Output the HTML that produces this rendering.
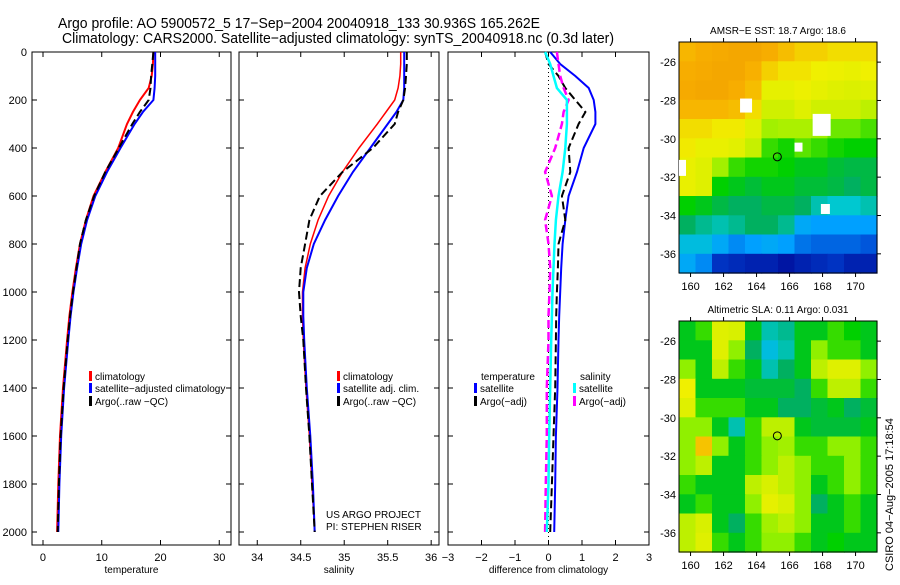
<!DOCTYPE html>
<html><head><meta charset="utf-8"><style>
body{margin:0;background:#fff}
svg text{font-family:"Liberation Sans",sans-serif;fill:#000}
</style></head><body>
<svg id="c" width="900" height="580" xmlns="http://www.w3.org/2000/svg">
<rect width="900" height="580" fill="#fff"/>
<text x="58" y="28" font-size="15" textLength="482" lengthAdjust="spacingAndGlyphs">Argo profile: AO 5900572_5 17−Sep−2004 20040918_133 30.936S 165.262E</text>
<text x="62" y="43" font-size="15" textLength="552" lengthAdjust="spacingAndGlyphs">Climatology: CARS2000. Satellite−adjusted climatology: synTS_20040918.nc (0.3d later)</text>
<g id="g"></g>
</svg>
<script>
const depths=[0,50,100,150,200,250,300,400,500,600,700,800,900,1000,1100,1200,1400,1600,1800,2000];
const tClim=[18.8,18.7,18.5,18.0,16.5,15.3,14.3,12.8,10.6,8.6,7.3,6.3,5.6,5.0,4.5,4.1,3.4,2.9,2.6,2.4];
const tSat=[19.1,19.1,19.1,19.0,18.8,17.0,15.6,13.2,10.9,8.9,7.5,6.5,5.8,5.2,4.7,4.3,3.6,3.1,2.8,2.6];
const tArgo=[18.8,18.6,18.4,18.3,18.0,16.5,15.2,12.9,10.6,8.7,7.3,6.3,5.7,5.1,4.6,4.2,3.5,3.0,2.7,2.5];
const sClim=[35.65,35.65,35.64,35.62,35.58,35.48,35.38,35.17,34.98,34.82,34.7,34.61,34.55,34.52,34.52,34.53,34.56,34.6,34.63,34.66];
const sSat=[35.69,35.69,35.69,35.69,35.68,35.6,35.5,35.3,35.1,34.93,34.78,34.65,34.57,34.53,34.53,34.54,34.57,34.61,34.64,34.66];
const sArgo=[35.72,35.72,35.71,35.70,35.68,35.62,35.58,35.33,34.98,34.72,34.6,34.55,34.5,34.48,34.5,34.53,34.56,34.6,34.63,34.66];
const dTSat=[0.05,0.35,0.8,1.2,1.35,1.4,1.4,1.05,0.85,0.6,0.5,0.42,0.38,0.35,0.32,0.3,0.27,0.22,0.2,0.17];
const dSSat=[-0.1,0.05,0.15,0.25,0.55,0.55,0.55,0.5,0.42,0.3,0.22,0.18,0.15,0.12,0.1,0.08,0.05,0.02,0.0,-0.05];
const dTArgo=[-0.1,0.0,0.3,0.5,0.8,1.1,0.9,0.6,0.65,0.4,0.5,0.3,0.28,0.25,0.23,0.22,0.2,0.15,0.1,0.05];
const dSArgo=[0.25,0.3,0.35,0.45,0.6,0.45,0.4,0.2,-0.1,0.1,-0.1,0.0,0.05,0.03,0.0,0.0,-0.05,-0.05,-0.08,-0.1];
const tTicks=[0,10,20,30], sTicks=[34,34.5,35,35.5,36], dTicks=[-3,-2,-1,0,1,2,3], zTicks=[0,200,400,600,800,1000,1200,1400,1600,1800,2000];
const sst=[
[.84,.86,.87,.88,.88,.86,.83,.8,.8,.78,.78,.78],
[.86,.87,.88,.88,.85,.8,.77,.77,.75,.74,.73,.75],
[.87,.88,.88,.86,.83,.72,.72,.74,.72,.7,.69,.7],
[.84,.84,.84,.83,.78,.67,.67,.7,.67,.67,.67,.65],
[.78,.78,.76,.76,.7,.62,.63,.63,.62,.58,.58,.56],
[.76,.73,.73,.71,.66,.55,.53,.57,.55,.53,.52,.52],
[.73,.7,.62,.55,.53,.53,.52,.5,.5,.48,.47,.47],
[.73,.7,.52,.5,.48,.5,.5,.48,.48,.47,.45,.47],
[.52,.5,.47,.45,.45,.47,.47,.45,.4,.38,.38,.4],
[.45,.42,.4,.42,.45,.45,.42,.3,.28,.28,.28,.28],
[.35,.35,.3,.25,.28,.3,.28,.22,.2,.2,.2,.18],
[.3,.25,.12,.1,.08,.08,.05,.08,.1,.12,.08,.08]];
const sla=[
[.5,.55,.7,.68,.5,.4,.42,.5,.5,.55,.52,.5],
[.5,.5,.7,.6,.45,.35,.4,.5,.6,.55,.55,.5],
[.6,.5,.65,.55,.5,.4,.45,.5,.65,.7,.7,.6],
[.75,.5,.5,.5,.48,.48,.48,.45,.55,.65,.65,.55],
[.7,.55,.55,.55,.5,.5,.45,.45,.48,.5,.45,.48],
[.6,.6,.5,.4,.55,.65,.65,.5,.48,.48,.48,.5],
[.6,.82,.6,.5,.55,.6,.62,.55,.55,.6,.6,.55],
[.6,.65,.5,.5,.55,.6,.65,.6,.55,.55,.6,.55],
[.55,.5,.5,.5,.65,.68,.65,.6,.5,.55,.6,.55],
[.5,.55,.5,.5,.6,.72,.68,.6,.45,.5,.55,.5],
[.65,.68,.5,.45,.55,.62,.65,.6,.5,.5,.55,.5],
[.65,.7,.55,.5,.55,.6,.6,.55,.5,.52,.5,.5]];
const NS='http://www.w3.org/2000/svg', G=document.getElementById('g');
function mk(t,a,p){const e=document.createElementNS(NS,t);for(const k in a)e.setAttribute(k,a[k]);(p||G).appendChild(e);return e;}
const yZ=z=>52+z*0.24;
const panels=[
 {x0:32,x1:231,v0:-1.87,v1:32.0,ticks:tTicks,label:'temperature',name:'temperature-panel'},
 {x0:239,x1:439,v0:33.79,v1:36.09,ticks:sTicks,label:'salinity',name:'salinity-panel'},
 {x0:448,x1:649,v0:-3,v1:3,ticks:dTicks,label:'difference from climatology',name:'difference-panel'}];
panels.forEach((p,i)=>{
 p.fx=v=>p.x0+(v-p.v0)/(p.v1-p.v0)*(p.x1-p.x0);
 const r=mk('rect',{x:p.x0,y:52,width:p.x1-p.x0,height:493,fill:'none',stroke:'#000','stroke-width':1});
 
 p.ticks.forEach(t=>{const x=p.fx(t);
  mk('line',{x1:x,x2:x,y1:545,y2:540,stroke:'#000'});mk('line',{x1:x,x2:x,y1:52,y2:57,stroke:'#000'});
  const tx=mk('text',{x:x,y:561,'font-size':11,'text-anchor':'middle'});tx.textContent=(t<0?'−'+(-t):t);
  });
 zTicks.forEach(z=>{const y=yZ(z);
  mk('line',{x1:p.x0,x2:p.x0+5,y1:y,y2:y,stroke:'#000'});mk('line',{x1:p.x1,x2:p.x1-5,y1:y,y2:y,stroke:'#000'});
  if(i==0){const tx=mk('text',{x:27,y:y+4,'font-size':11,'text-anchor':'end'});tx.textContent=z;
   }});
 const lb=mk('text',{x:(p.x0+p.x1)/2,y:573,'font-size':10,'text-anchor':'middle'});lb.textContent=p.label;
 
});
function line(p,vals,col,w,dash,name){
 const d=vals.map((v,k)=>(k?'L':'M')+p.fx(v).toFixed(1)+','+yZ(depths[k]).toFixed(1)).join('');
 const a={d:d,fill:'none',stroke:col,'stroke-width':w};if(dash)a['stroke-dasharray']=dash;
 const e=mk('path',a);}
const P=panels;
mk('line',{x1:P[2].fx(0),x2:P[2].fx(0),y1:52,y2:545,stroke:'#000','stroke-dasharray':'1,3'});
line(P[0],tClim,'#f00',2,null,'temp-climatology-line');line(P[0],tSat,'#00f',2,null,'temp-satellite-line');line(P[0],tArgo,'#000',2,'8,4','temp-argo-line');
line(P[1],sClim,'#f00',1.5,null,'sal-climatology-line');line(P[1],sSat,'#00f',2,null,'sal-satellite-line');line(P[1],sArgo,'#000',2,'8,4','sal-argo-line');
line(P[2],dTSat,'#00f',2,null,'temp-satellite-diff-line');line(P[2],dTArgo,'#000',2,'8,4','temp-argo-diff-line');
line(P[2],dSArgo,'#f0f',2.5,'8,4','sal-argo-diff-line');line(P[2],dSSat,'#0ff',2.5,null,'sal-satellite-diff-line');
function leg(x,y,col,txt){mk('rect',{x:x,y:y-9,width:3,height:10,fill:col});if(txt){const t=mk('text',{x:x+6,y:y,'font-size':10});t.textContent=txt;
 }}
leg(89,380,'#f00','climatology');leg(89,392,'#00f','satellite−adjusted climatology');leg(89,405,'#000','Argo(..raw −QC)');
leg(337,380,'#f00','climatology');leg(337,392,'#00f','satellite adj. clim.');leg(337,405,'#000','Argo(..raw −QC)');
{const t=mk('text',{x:481,y:380,'font-size':10});t.textContent='temperature';const s=mk('text',{x:580,y:380,'font-size':10});s.textContent='salinity';}
leg(474,392,'#00f','satellite');leg(474,405,'#000','Argo(−adj)');leg(573,392,'#0ff','satellite');leg(573,405,'#f0f','Argo(−adj)');
{const a=mk('text',{x:326,y:518,'font-size':10});a.textContent='US ARGO PROJECT';const b=mk('text',{x:326,y:530,'font-size':10});b.textContent='PI: STEPHEN RISER';}
const stops=[[0,[0,0,140]],[.15,[0,64,208]],[.28,[0,160,255]],[.38,[0,200,208]],[.45,[0,176,96]],[.52,[0,208,0]],[.6,[144,240,0]],[.68,[216,240,0]],[.75,[240,240,0]],[.85,[248,176,0]],[1,[230,130,0]]];
function cmap(v){for(let i=1;i<stops.length;i++)if(v<=stops[i][0]){const[a,ca]=stops[i-1],[b,cb]=stops[i],f=(v-a)/(b-a);return 'rgb('+ca.map((c,j)=>Math.round(c+(cb[j]-c)*f)).join(',')+')';}return 'rgb(230,130,0)';}
function map(y0,grid,title,name){
 const x0=679,w=198,h=231,lx=v=>x0+(v-159.3)/12*w,ly=v=>y0+(-24.95-v)/12.05*h;
 const g=mk('g',{});
 grid.forEach((row,r)=>row.forEach((v,c)=>{const cell=mk('rect',{x:(x0+c*w/12).toFixed(1),y:(y0+r*h/12).toFixed(1),width:(w/12+0.6).toFixed(1),height:(h/12+0.6).toFixed(1),fill:cmap(v)},g);
  }));
 mk('rect',{x:x0,y:y0,width:w,height:h,fill:'none',stroke:'#000'});
 [160,162,164,166,168,170].forEach(v=>{const x=lx(v);mk('line',{x1:x,x2:x,y1:y0+h,y2:y0+h+4,stroke:'#000'});mk('line',{x1:x,x2:x,y1:y0,y2:y0-4,stroke:'#000'});
  const t=mk('text',{x:x,y:y0+h+17,'font-size':11,'text-anchor':'middle'});t.textContent=v;});
 [-26,-28,-30,-32,-34,-36].forEach(v=>{const y=ly(v);mk('line',{x1:x0+w,x2:x0+w+4,y1:y,y2:y,stroke:'#000'});
  const t=mk('text',{x:x0-3,y:y+4,'font-size':11,'text-anchor':'end'});t.textContent='-'+(-v);});
 const t=mk('text',{x:x0+w/2,y:y0-8,'font-size':10,'text-anchor':'middle'});t.textContent=title;
 
 mk('circle',{cx:lx(165.26),cy:ly(-30.94),r:4,fill:'none',stroke:'#000'});
 return {lx,ly};}
const m1=map(42,sst,'AMSR−E SST: 18.7 Argo: 18.6','sst-map');
[[163,-27.9,12,14],[167.4,-28.7,18,22],[166.3,-30.2,8,9],[167.9,-33.4,9,10],[159.3,-31.1,7,16]].forEach(b=>mk('rect',{x:m1.lx(b[0]),y:m1.ly(b[1]),width:b[2],height:b[3],fill:'#fff'}));
map(321,sla,'Altimetric SLA: 0.11 Argo: 0.031','sla-map');
{const t=mk('text',{x:0,y:0,'font-size':11,transform:'translate(893,571) rotate(-90)'});t.textContent='CSIRO 04−Aug−2005 17:18:54';
 }
</script>
</body></html>
